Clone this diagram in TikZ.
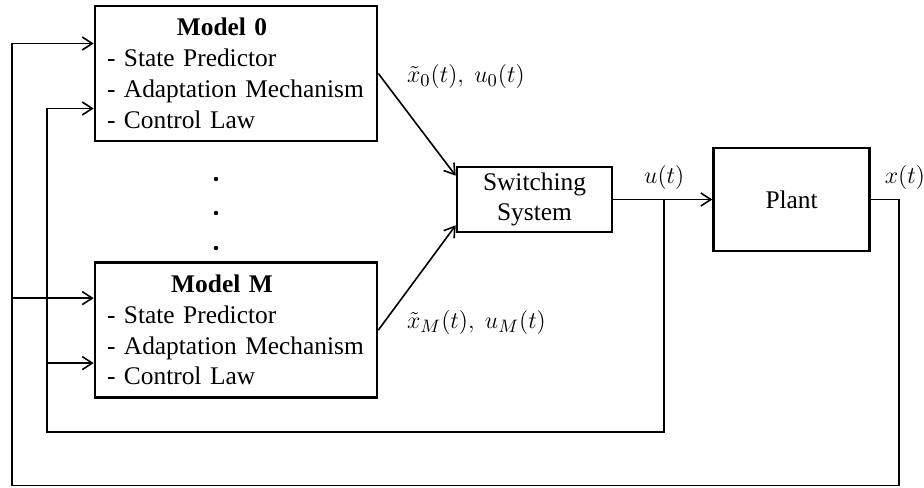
\documentclass[tikz,border=0pt]{standalone}
\usepackage{fontspec}
\setmainfont{Liberation Serif}
\usetikzlibrary{arrows.meta,positioning,calc}
\tikzset{
model/.style={draw,line width=1.3pt,minimum width=141pt,minimum height=67.5pt,text width=129pt,align=left,inner sep=0pt},
block/.style={draw,line width=1.3pt,minimum width=77.5pt,align=center,inner sep=0pt},
dotmark/.style={circle,fill,inner sep=0pt,minimum size=2.2pt},
siglabel/.style={inner sep=2pt},
flow/.style={-{Straight Barb[length=5pt,width=6.5pt]},line width=0.8pt},
wire/.style={line width=0.8pt}
}
\begin{document}
\begin{tikzpicture}[x=0.5pt,y=-0.5pt,font=\fontsize{12.7}{15.4}\selectfont]
\useasboundingbox (0,0) rectangle (924,487);
\node[model](model0) at (236,73.5){\makebox[115pt]{\textbf{Model 0}}\\- State Predictor\\- Adaptation Mechanism\\- Control Law};
\node[model,below=59.5pt of model0](modelM){\makebox[115pt]{\textbf{Model M}}\\- State Predictor\\- Adaptation Mechanism\\- Control Law};
\node[block,minimum height=32.5pt](switch) at (534.5,199.5){Switching\\System};
\node[block,minimum width=78pt,minimum height=51.5pt,right=49.5pt of switch](plant){Plant};
\foreach \y[count=\i] in {179,213,248} \node[dotmark](dot\i) at (216,\y){};
\coordinate (ubranch) at ($(switch.east)!0.515!(plant.west)$);
\coordinate[right=14pt of plant.east](xout);
\coordinate (outerbot) at (12,485.5);
\coordinate (innerbot) at (47,432);
\coordinate (m0outer) at ([yshift=15pt]model0.west);
\coordinate (m0inner) at ([yshift=-17.5pt]model0.west);
\coordinate (mMouter) at ([yshift=16pt]modelM.west);
\coordinate (mMinner) at ([yshift=-16.5pt]modelM.west);
\draw[flow](model0.east)--node[siglabel,pos=0,anchor=west,xshift=12pt,yshift=-1.5pt](lab0){$\tilde{x}_0(t),\ u_0(t)$}([yshift=-5pt]switch.north west);
\draw[flow](modelM.east)--node[siglabel,pos=0,anchor=west,xshift=12pt,yshift=4pt](labM){$\tilde{x}_M(t),\ u_M(t)$}([yshift=4pt]switch.south west);
\draw[flow](switch.east)--(plant.west);
\node[siglabel,above=3pt of ubranch](ulab){$u(t)$};
\node[siglabel,above=3pt of xout,xshift=3pt](xlab){$x(t)$};
\draw[flow](plant.east)--(xout)|-(outerbot)|-(m0outer);
\draw[flow](outerbot|-mMouter)--(mMouter);
\draw[flow](ubranch)|-(innerbot)|-(m0inner);
\draw[flow](innerbot|-mMinner)--(mMinner);
\end{tikzpicture}
\end{document}
